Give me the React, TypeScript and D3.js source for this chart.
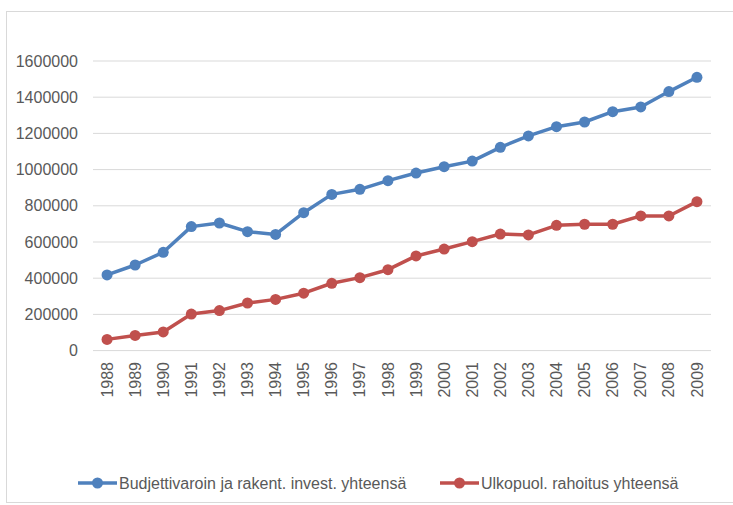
import React from "react";
import * as d3 from "d3";

const years = ["1988","1989","1990","1991","1992","1993","1994","1995","1996","1997","1998","1999","2000","2001","2002","2003","2004","2005","2006","2007","2008","2009"];
const budjetti = [418000,473000,543000,685000,705000,657000,642000,762000,863000,891000,939000,981000,1016000,1047000,1123000,1186000,1237000,1263000,1320000,1346000,1431000,1510000];
const ulkopuol = [62000,84000,103000,202000,221000,263000,283000,317000,372000,403000,447000,523000,561000,602000,644000,639000,692000,698000,698000,744000,744000,823000];
const yTicks = [0,200000,400000,600000,800000,1000000,1200000,1400000,1600000];
const seriesNames = ["Budjettivaroin ja rakent. invest. yhteensä","Ulkopuol. rahoitus yhteensä"];

const W = 733, H = 505;
const FONT = "'Liberation Sans', Arial, sans-serif";
const TXT = "#595959";

export default function App() {
  const x = d3.scaleBand().domain(years).range([93, 711]);
  const y = d3.scaleLinear().domain([0, 1600000]).range([350.6, 61]);
  const cx = (yr: string) => (x(yr) as number) + x.bandwidth() / 2;
  const line = d3.line<number>().x((_, i) => cx(years[i])).y(v => y(v));
  const series = [
    { name: seriesNames[0], data: budjetti, color: "#4F81BD" },
    { name: seriesNames[1], data: ulkopuol, color: "#C0504D" },
  ];
  const legend = [
    { x0: 78, name: seriesNames[0], color: "#4F81BD" },
    { x0: 440, name: seriesNames[1], color: "#C0504D" },
  ];
  return (
    <svg width={W} height={H} style={{ position: "absolute", left: 0, top: 0, background: "#fff" }} fontFamily={FONT}>
      <rect x={6.5} y={11.5} width={900} height={491} fill="#fff" stroke="#d9d9d9" />
      {yTicks.map(t => (
        <g key={t}>
          <line x1={93} x2={711} y1={y(t)} y2={y(t)} stroke="#d9d9d9" strokeWidth={1} />
          <text x={78} y={y(t)} dy="0.35em" textAnchor="end" fontSize={16} fill={TXT}>{t}</text>
        </g>
      ))}
      {years.map(yr => (
        <text key={yr} transform={`translate(${cx(yr)},362) rotate(-90)`} textAnchor="end" dy="0.35em" fontSize={16} fill={TXT}>{yr}</text>
      ))}
      {series.map(s => (
        <g key={s.name}>
          <path d={line(s.data) as string} fill="none" stroke={s.color} strokeWidth={3.5} strokeLinejoin="round" />
          {s.data.map((v, i) => (
            <circle key={i} cx={cx(years[i])} cy={y(v)} r={5.5} fill={s.color} />
          ))}
        </g>
      ))}
      {legend.map(l => (
        <g key={l.name}>
          <line x1={l.x0} x2={l.x0 + 39} y1={483} y2={483} stroke={l.color} strokeWidth={3.5} />
          <circle cx={l.x0 + 19.5} cy={483} r={5.5} fill={l.color} />
          <text x={l.x0 + 41} y={483} dy="0.35em" fontSize={16} fill={TXT}>{l.name}</text>
        </g>
      ))}
    </svg>
  );
}
